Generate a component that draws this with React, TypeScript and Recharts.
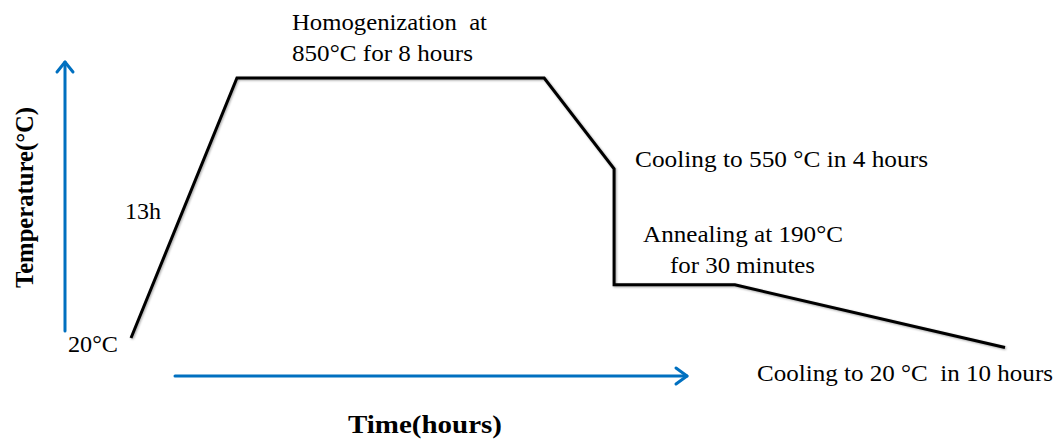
import React from 'react';
import { LineChart, Line, XAxis, YAxis } from 'recharts';

// schematic time positions (not to scale) and temperatures in °C
const times = [0, 10, 39, 45.6, 45.6, 57, 82.5];
const temps = [20, 850, 850, 560, 190, 190, -10];

const data = times.map((t, i) => ({ time: t, temp: temps[i] }));

const W = 1059;
const H = 443;
const blue = '#0070C0';
const serif = '"Liberation Serif", "Times New Roman", serif';

// annotation text drawn over the chart; len = measured width in the reference
const Label = ({ x, y, len, children }: { x: number; y: number; len: number; children: string }) => (
  <text x={x} y={y} textLength={len} lengthAdjust="spacingAndGlyphs" xmlSpace="preserve">
    {children}
  </text>
);

const App: React.FC = () => {
  return (
    <div style={{ position: 'absolute', left: 0, top: 0, width: W, height: H, background: '#fff' }}>
      <LineChart width={W} height={H} data={data} margin={{ top: 0, right: 54, bottom: 0, left: 131 }}>
        <XAxis dataKey="time" type="number" domain={[0, 82.5]} hide />
        <YAxis dataKey="temp" type="number" domain={[-315, 1099]} hide />
        <Line
          type="linear"
          dataKey="temp"
          stroke="#000"
          strokeWidth={3}
          dot={false}
          isAnimationActive={false}
          strokeLinejoin="miter"
          style={{ filter: 'drop-shadow(1px 1px 1px rgba(0,0,0,0.35))' }}
        />
      </LineChart>

      {/* arrows + annotations */}
      <svg width={W} height={H} style={{ position: 'absolute', left: 0, top: 0, pointerEvents: 'none' }}>
        <g stroke={blue} strokeWidth={3} fill="none" strokeLinecap="round" strokeLinejoin="round">
          <line x1={65} y1={331} x2={65} y2={62} />
          <polyline points="57,72 65,62 73,72" />
          <line x1={175} y1={376} x2={687} y2={376} />
          <polyline points="676,368 687,376 676,384" />
        </g>
        <g fontFamily={serif} fontSize={23} fill="#000">
          <Label x={292} y={30} len={195}>Homogenization  at</Label>
          <Label x={292} y={61} len={181}>850°C for 8 hours</Label>
          <Label x={635} y={167} len={293}>Cooling to 550 °C in 4 hours</Label>
          <Label x={643} y={242} len={200}>Annealing at 190°C</Label>
          <Label x={670} y={273} len={145}>for 30 minutes</Label>
          <Label x={757} y={381} len={296}>Cooling to 20 °C  in 10 hours</Label>
          <Label x={125} y={219} len={36}>13h</Label>
          <Label x={68} y={352} len={50}>20°C</Label>
        </g>
        <g fontFamily={serif} fontSize={25} fontWeight="bold" fill="#000">
          <text x={348} y={433} textLength={154} lengthAdjust="spacingAndGlyphs">Time(hours)</text>
          <text
            x={107}
            y={33}
            textLength={181}
            lengthAdjust="spacingAndGlyphs"
            transform="rotate(-90 0 0) translate(-395 0)"
          >
            Temperature(°C)
          </text>
        </g>
      </svg>
    </div>
  );
};

export default App;
